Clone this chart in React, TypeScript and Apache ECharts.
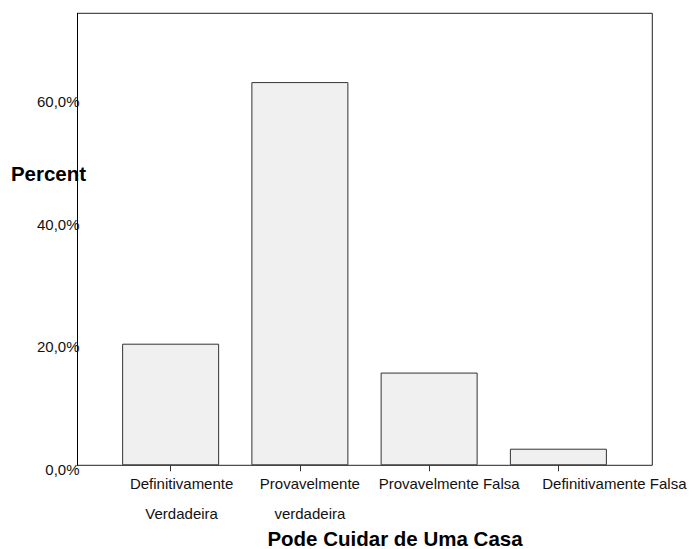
import React, { useEffect, useRef } from "react";
import * as echarts from "echarts";

const categories = [
  "Definitivamente\nVerdadeira",
  "Provavelmente\nverdadeira",
  "Provavelmente Falsa",
  "Definitivamente Falsa",
];
const percentValues = [19.8, 62.4, 15.1, 2.7];
const yTicks = [0, 20, 40, 60];
const yMax = 73.6;
const xAxisTitle = "Pode Cuidar de Uma Casa";
const yAxisTitle = "Percent";
const labelShift = [22, 20, 40, 112];

const FONT = "'Liberation Sans', Arial, sans-serif";

export default function App() {
  const ref = useRef<HTMLDivElement>(null);
  useEffect(() => {
    if (!ref.current) return;
    const chart = echarts.init(ref.current, undefined, { renderer: "svg" });
    const fmt = (v: number) => v.toFixed(1).replace(".", ",") + "%";
    chart.setOption({
      animation: false,
      backgroundColor: "#ffffff",
      grid: [
        {
          left: 77.5,
          right: 40.7,
          top: 13.3,
          bottom: 83.7,
          show: true,
          borderColor: "#222",
          borderWidth: 1,
          backgroundColor: "transparent",
        },
        { left: 106, right: 70, top: 13.3, bottom: 83.7 },
      ],
      xAxis: [
        { gridIndex: 0, type: "value", show: false, min: 0, max: 1 },
        {
          gridIndex: 1,
          type: "category",
          data: categories.map((c, i) => ({
            value: c,
            textStyle: { padding: [0, 0, 0, labelShift[i]] },
          })),
          axisLine: { show: false },
          axisTick: {
            show: true,
            alignWithLabel: true,
            length: 6,
            lineStyle: { color: "#333" },
          },
          axisLabel: {
            interval: 0,
            fontSize: 15,
            lineHeight: 30,
            margin: 3,
            color: "#111",
            fontFamily: FONT,
          },
        },
      ],
      yAxis: [
        {
          gridIndex: 0,
          type: "value",
          min: 0,
          max: yMax,
          interval: 20,
          axisLine: { show: true, lineStyle: { color: "#000" } },
          axisTick: { show: false },
          splitLine: { show: false },
          axisLabel: {
            showMaxLabel: false,
            fontSize: 15,
            color: "#111",
            fontFamily: FONT,
            margin: -2,
            verticalAlign: "top",
            lineHeight: 9,
            formatter: (v: number) => (yTicks.includes(v) ? fmt(v) : ""),
          },
        },
        { gridIndex: 1, type: "value", min: 0, max: yMax, show: false },
      ],
      series: [
        {
          type: "bar",
          xAxisIndex: 1,
          yAxisIndex: 1,
          data: percentValues,
          barWidth: 97,
          itemStyle: { color: "#f0f0f0", borderColor: "#333", borderWidth: 1 },
        },
      ],
      graphic: [
        {
          type: "text",
          x: 48.5,
          y: 173,
          style: {
            text: yAxisTitle,
            fontSize: 20.5,
            fontWeight: "bold",
            fontFamily: FONT,
            fill: "#000",
            textAlign: "center",
            textVerticalAlign: "middle",
          },
        },
        {
          type: "text",
          x: 395,
          y: 538,
          style: {
            text: xAxisTitle,
            fontSize: 20.5,
            fontWeight: "bold",
            fontFamily: FONT,
            fill: "#000",
            textAlign: "center",
            textVerticalAlign: "middle",
          },
        },
      ],
    });
    return () => chart.dispose();
  }, []);
  return (
    <div
      ref={ref}
      style={{ position: "fixed", left: 0, top: 0, width: 693, height: 549 }}
    />
  );
}
